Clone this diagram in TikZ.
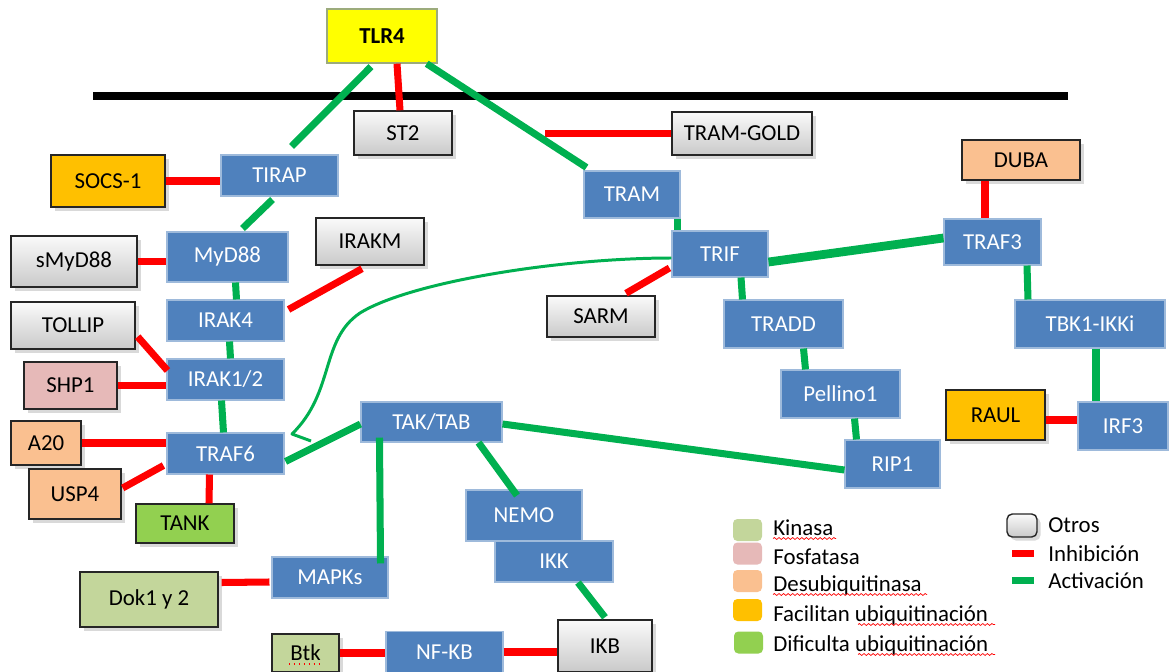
\documentclass[tikz,border=0pt]{standalone}
\usepackage{fontspec}
\setmainfont{Carlito}
\usetikzlibrary{calc, shadows, positioning, decorations.pathmorphing}

\definecolor{protblue}{HTML}{4F81BD}
\definecolor{actgreen}{HTML}{00B050}
\definecolor{inhred}{HTML}{FF0000}
\definecolor{kinasa}{HTML}{C3D69B}
\definecolor{fosfatasa}{HTML}{E6B9B8}
\definecolor{desubiq}{HTML}{FAC090}
\definecolor{facilita}{HTML}{FFC000}
\definecolor{dificulta}{HTML}{92D050}
\definecolor{tlryellow}{HTML}{FFFF00}

\begin{document}
\begin{tikzpicture}[x=0.02cm, y=-0.02cm,
    every node/.style={font=\fontsize{13}{15}\selectfont},
    sz/.style 2 args={minimum width=#1*0.02cm, minimum height=#2*0.02cm, inner sep=0pt},
    prot/.style={fill=protblue, draw=protblue!55!white, line width=0.6pt, text=white},
    regbox/.style={draw=black!85, line width=0.8pt,
        drop shadow={shadow xshift=2pt, shadow yshift=-2pt, opacity=0.3}},
    otros/.style={regbox, top color=gray!4, bottom color=gray!42},
    act/.style={draw=actgreen, line width=4pt},
    inh/.style={draw=inhred, line width=4pt},
    swatch/.style={rounded corners=2.5pt, minimum width=29*0.02cm, minimum height=22*0.02cm, inner sep=0pt},
    legtext/.style={anchor=base west, inner sep=0pt},
    spell/.style={draw=inhred, line width=0.4pt, decorate,
        decoration={snake, amplitude=0.55pt, segment length=2.6pt}}]

\useasboundingbox (0,0) rectangle (1170,672);

% membrana
\draw[line width=4.6pt] (93,96) -- (1068,96);

% receptor y proteinas
\node[sz={110}{54}, fill=tlryellow, draw=kinasa!80!black, line width=0.8pt, font=\fontsize{13}{15}\selectfont\bfseries] (tlr4) at (382,36) {TLR4};
\node[sz={98}{44}, otros] (st2) at (403,133) {ST2};
\node[sz={140}{43}, otros] (tramgold) at (742,133.5) {TRAM-GOLD};
\node[sz={117}{41}, prot] (tirap) at (279.5,175.5) {TIRAP};
\node[sz={114}{52}, regbox, fill=facilita] (socs) at (108,181) {SOCS-1};
\node[sz={96}{47}, prot] (tram) at (632,194.5) {TRAM};
\node[sz={118}{40}, regbox, fill=desubiq] (duba) at (1021,160) {DUBA};
\node[sz={97}{46}, prot] (traf3) at (992.5,242) {TRAF3};
\node[sz={96}{46}, prot] (trif) at (720,254) {TRIF};
\node[sz={121}{50}, prot] (myd88) at (227.5,257) {MyD88};
\node[sz={126}{51}, otros] (smyd) at (74,261.5) {sMyD88};
\node[sz={108}{47}, otros] (irakm) at (370,241.5) {IRAKM};
\node[sz={108}{41}, otros] (sarm) at (601,316.5) {SARM};
\node[sz={119}{48}, prot] (tradd) at (783.5,324) {TRADD};
\node[sz={150}{48}, prot] (tbk1) at (1090,324) {TBK1-IKKi};
\node[sz={117}{41}, prot] (irak4) at (225.5,320.5) {IRAK4};
\node[sz={124}{47}, otros] (tollip) at (73,325.5) {TOLLIP};
\node[sz={117}{41}, prot] (irak12) at (225.5,379.5) {IRAK1/2};
\node[sz={93}{47}, regbox, fill=fosfatasa] (shp1) at (70.5,385.5) {SHP1};
\node[sz={119}{48}, prot] (pellino) at (840.5,394) {Pellino1};
\node[sz={99}{50}, regbox, fill=facilita] (raul) at (995.5,415) {RAUL};
\node[sz={90}{48}, prot] (irf3) at (1123,426) {IRF3};
\node[sz={141}{40}, prot] (taktab) at (431.5,422) {TAK/TAB};
\node[sz={70}{44}, regbox, fill=desubiq] (a20) at (46,443) {A20};
\node[sz={117}{41}, prot] (traf6) at (225.5,453.5) {TRAF6};
\node[sz={95}{48}, prot] (rip1) at (892.5,464) {RIP1};
\node[sz={92}{50}, regbox, fill=desubiq] (usp4) at (75,494) {USP4};
\node[sz={98}{39}, regbox, fill=dificulta] (tank) at (185,523.5) {TANK};
\node[sz={116}{51}, prot] (nemo) at (524,515.5) {NEMO};
\node[sz={118}{41}, prot] (ikk) at (554,561.5) {IKK};
\node[sz={116}{41}, prot] (mapks) at (330,577.5) {MAPKs};
\node[sz={138}{55}, regbox, fill=kinasa] (dok) at (149,599.5) {Dok1 y 2};
\node[sz={94}{52}, otros] (ikb) at (605,646) {IKB};
\node[sz={67}{38}, regbox, fill=kinasa] (btk) at (305.5,653) {Btk};
\node[sz={117}{41}, prot] (nfkb) at (444.5,652) {NF-KB};

% via MyD88
\draw[act] ($(tlr4.south)+(-11,3)$) -- ($(tirap.north)+(12,-8)$);
\draw[inh] ($(tlr4.south)+(15,0)$) -- ($(st2.north)+(-3,0)$);
\draw[inh] (socs.east) -- (socs.east -| tirap.west);
\draw[act] ($(tirap.south)+(-7,3)$) -- ($(myd88.north)+(15,-3)$);
\draw[inh] (smyd.east) -- (smyd.east -| myd88.west);
\draw[act] ($(myd88.south)+(8,0)$) -- ($(irak4.north)+(11,0)$);
\draw[inh] ($(irakm.south)+(-8,3)$) -- ($(irak4.east)+(4,-11)$);
\draw[act] ($(irak4.south)+(4,0)$) -- ($(irak12.north)+(5,0)$);
\draw[inh] ($(tollip.south east)+(2,-13)$) -- ($(irak12.west)+(1,-9)$);
\draw[inh] (shp1.east) -- (shp1.east -| irak12.west);
\draw[act] ($(irak12.south)+(-4,0)$) -- ($(traf6.north)+(-2,0)$);
\draw[inh] (a20.east) -- (a20.east -| traf6.west);
\draw[inh] ($(usp4.east)+(1,-6)$) -- ($(traf6.south west)+(-3,-9)$);
\draw[inh] ($(traf6.south)+(-16,0)$) -- ($(tank.north)+(24,0)$);
\draw[act] ($(traf6.east)+(1,8)$) -- ($(taktab.west)+(0,2)$);
\draw[act] ($(taktab.south west)+(19,-5)$) -- ($(mapks.north east)+(-8,7)$);
\draw[act] ($(taktab.south)+(47,0)$) -- ($(nemo.north)+(-7,6)$);
\draw[act] ($(taktab.east)+(0,2)$) -- ($(rip1.west)+(0,6)$);
\draw[act] ($(ikk.south)+(24,0)$) -- ($(ikb.north)+(0,-2)$);
\draw[inh] ($(dok.east)+(3,-17)$) -- ($(mapks.west)+(-2,4.5)$);
\draw[inh] (btk.east) -- (btk.east -| nfkb.west);
\draw[inh] (nfkb.east) -- (nfkb.east -| ikb.west);

% via TRIF
\coordinate (tgend) at (545,133.5);
\draw[inh] (tramgold.west) -- (tgend);
\draw[act] ($(tlr4.south east)+(-11,0)$) -- ($(tram.north west)+(3,-3)$);
\draw[act] ($(tram.south east)+(-3,0)$) -- ($(tram.south east |- trif.north)+(-3,0)$);
\draw[act, line width=5pt] ($(trif.east)+(0,8)$) -- ($(traf3.west)+(0,-4)$);
\draw[inh] ($(trif.west)+(-2,14)$) -- ($(sarm.north)+(25,-2)$);
\draw[act] ($(trif.south)+(21,0)$) -- ($(tradd.north)+(-41,0)$);
\draw[inh] ($(duba.south)+(-36,0)$) -- ($(traf3.north)+(-7.5,0)$);
\draw[act] ($(traf3.south)+(34.5,0)$) -- ($(tbk1.north)+(-62,0)$);
\draw[act] ($(tradd.south)+(20,0)$) -- ($(pellino.north)+(-35,0)$);
\draw[act] ($(pellino.south)+(14,0)$) -- ($(rip1.north)+(-36,0)$);
\draw[act] ($(tbk1.south)+(6,0)$) -- ($(irf3.north)+(-27,0)$);
\draw[inh] ($(raul.east)+(0,5)$) -- ($(irf3.west)+(0,-6)$);
\draw[draw=actgreen, line width=1.7pt, line join=round]
    ($(trif.west)+(0,4)$) .. controls (560,258) and (410,282) .. (360,313)
    .. controls (320,340) and (335,392) .. (292,434) -- (311,441);

% leyenda
\node[swatch, fill=kinasa] (swkin) at (747.5,530) {};
\node[swatch, fill=fosfatasa] (swfos) at (747.5,553.5) {};
\node[swatch, fill=desubiq] (swdes) at (747.5,581) {};
\node[swatch, fill=facilita] (swfac) at (747.5,610) {};
\node[swatch, fill=dificulta] (swdif) at (748.5,642.5) {};
\node[legtext] (lkin) at (773,535) {Kinasa};
\node[legtext] (lfos) at (773,564) {Fosfatasa};
\node[legtext] (ldes) at (773,591) {Desubiquitinasa};
\node[legtext] (lfac) at (773,621) {Facilitan ubiquitinación};
\node[legtext] (ldif) at (773,651) {Dificulta ubiquitinación};
\node[otros, rounded corners=3pt, minimum width=30*0.02cm, minimum height=23*0.02cm, inner sep=0pt] (swotr) at (1022,525.5) {};
\node[legtext] (lotr) at (1048,532) {Otros};
\node[legtext] (linh) at (1048,561) {Inhibición};
\node[legtext] (lact) at (1048,588) {Activación};
\draw[inh] (1012,553.5) -- (1034,553.5);
\draw[act] (1012,580.5) -- (1034,580.5);

% subrayado del corrector
\draw[spell] (773,538.5) -- (836,538.5);
\draw[spell] (773,594.5) -- (927,594.5);
\draw[spell] (858,624.5) -- (995,624.5);
\draw[spell] (858,654.5) -- (995,654.5);
\draw[inhred, dotted, line width=0.8pt] (289,664) -- (322,664);
\end{tikzpicture}
\end{document}
